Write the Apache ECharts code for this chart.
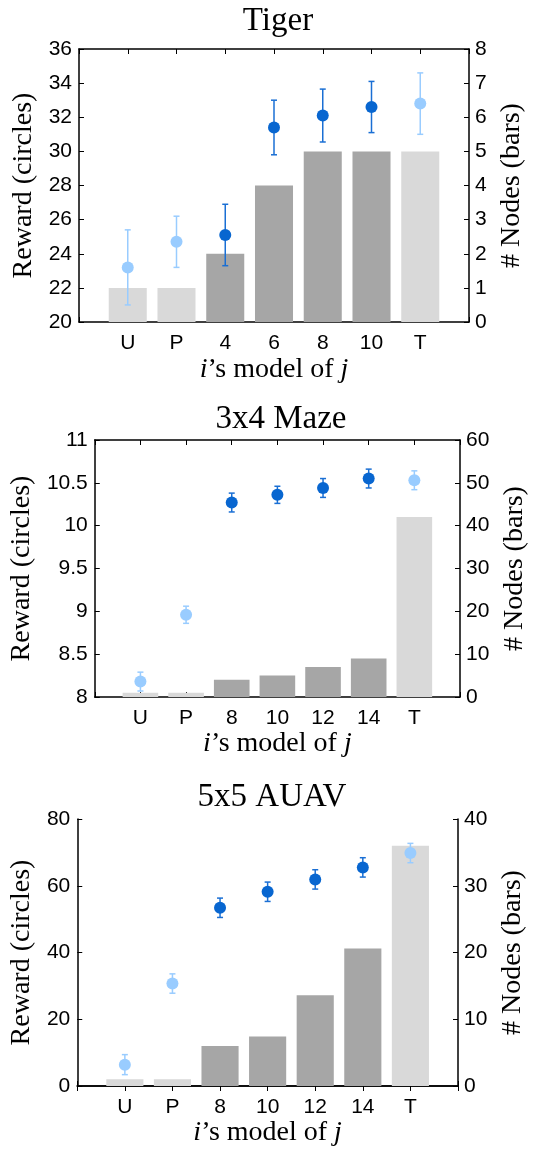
<!DOCTYPE html>
<html>
<head>
<meta charset="utf-8">
<title>Reward and nodes</title>
<script src="https://cdn.jsdelivr.net/npm/echarts@6/dist/echarts.min.js"></script>
<style>
  html, body { margin: 0; padding: 0; background: #fff; }
  #main { width: 543px; height: 1149px; }
</style>
</head>
<body>
<div id="main"></div>
<script>
// model categories per problem
var tigerCats = ['U', 'P', '4', '6', '8', '10', 'T'];
var mazeCats = ['U', 'P', '8', '10', '12', '14', 'T'];
var auavCats = ['U', 'P', '8', '10', '12', '14', 'T'];

// reward (circles) and its error half-width
var tigerReward = [23.2, 24.7, 25.1, 31.4, 32.1, 32.6, 32.8];
var tigerErr = [2.2, 1.5, 1.8, 1.6, 1.55, 1.5, 1.8];
var mazeReward = [8.18, 8.96, 10.27, 10.36, 10.44, 10.55, 10.53];
var mazeErr = [0.11, 0.1, 0.11, 0.1, 0.11, 0.11, 0.11];
var auavReward = [6.4, 30.7, 53.4, 58.2, 61.9, 65.5, 69.8];
var auavErr = [3, 2.9, 2.9, 2.9, 2.9, 2.9, 2.9];

// number of nodes (bars)
var tigerNodes = [1, 1, 2, 4, 5, 5, 5];
var mazeNodes = [1, 1, 4, 5, 7, 9, 42];
var auavNodes = [1, 1, 6, 7.4, 13.6, 20.6, 36];

// U, P and T are the reference models, drawn light
var baseModels = ['U', 'P', 'T'];

var dom = document.getElementById('main');
var myChart = echarts.init(dom);

var SERIF = '"Liberation Serif", "DejaVu Serif", serif';
var SANS = '"Liberation Sans", Arial, sans-serif';

var option = {
  animation: false,
  backgroundColor: '#fff',
  grid: [],
  xAxis: [],
  yAxis: [],
  series: [],
  graphic: []
};

function addPanel(p) {
  var gi = option.grid.length;
  option.grid.push({ left: p.grid[0], top: p.grid[1], width: p.grid[2], height: p.grid[3] });

  var axisCats = [' '].concat(p.cats).concat(['  ']);
  var xi = option.xAxis.length;
  option.xAxis.push({
    type: 'category', gridIndex: gi, data: axisCats, boundaryGap: false,
    axisLine: { lineStyle: { color: '#000', width: 1.5 } },
    axisTick: { inside: true, length: 5, lineStyle: { color: '#000' } },
    axisLabel: { color: '#000', fontFamily: SANS, fontSize: 21, margin: 11 },
    name: '{it|i}\u2019s model of {it|j}', nameLocation: 'middle', nameGap: p.xNameGap,
    nameTextStyle: {
      color: '#000', fontFamily: SERIF, fontSize: 28,
      rich: { it: { fontStyle: 'italic', fontFamily: SERIF, fontSize: 28, color: '#000' } }
    }
  });
  option.xAxis.push({
    type: 'category', gridIndex: gi, data: axisCats, boundaryGap: false, position: 'top',
    axisLine: { lineStyle: { color: '#000', width: 1.5 } },
    axisTick: { inside: true, length: 5, lineStyle: { color: '#000' } },
    axisLabel: { show: false }
  });

  var yl = option.yAxis.length;
  option.yAxis.push({
    type: 'value', gridIndex: gi, position: 'left',
    min: p.left[0], max: p.left[1], interval: p.left[2],
    splitLine: { show: false },
    axisLine: { show: true, lineStyle: { color: '#000', width: 1.5 } },
    axisTick: { show: true, inside: true, length: 5, lineStyle: { color: '#000' } },
    axisLabel: { color: '#000', fontFamily: SANS, fontSize: 21, margin: 7 },
    name: 'Reward (circles)', nameLocation: 'middle', nameGap: p.leftGap, nameRotate: 90,
    nameTextStyle: { color: '#000', fontFamily: SERIF, fontSize: 28 }
  });
  option.yAxis.push({
    type: 'value', gridIndex: gi, position: 'right',
    min: p.right[0], max: p.right[1], interval: p.right[2],
    splitLine: { show: false },
    axisLine: { show: true, lineStyle: { color: '#000', width: 1.5 } },
    axisTick: { show: true, inside: true, length: 5, lineStyle: { color: '#000' } },
    axisLabel: { color: '#000', fontFamily: SANS, fontSize: 21, margin: 6 },
    name: '# Nodes (bars)', nameLocation: 'middle', nameGap: p.rightGap, nameRotate: 90,
    nameTextStyle: { color: '#000', fontFamily: SERIF, fontSize: 28 }
  });

  var isBase = function (c) { return baseModels.indexOf(c) >= 0; };

  option.series.push({
    type: 'bar', xAxisIndex: xi, yAxisIndex: yl + 1, barWidth: '78%',
    data: p.nodes.map(function (v, i) {
      return {
        value: [i + 1, v],
        itemStyle: { color: isBase(p.cats[i]) ? '#d9d9d9' : '#a6a6a6' }
      };
    }),
    z: 1
  });

  option.series.push({
    type: 'custom', xAxisIndex: xi, yAxisIndex: yl,
    encode: { x: 0, y: [1, 2] },
    data: p.reward.map(function (v, i) {
      return [i + 1, v - p.err[i], v + p.err[i], isBase(p.cats[i]) ? 1 : 0];
    }),
    renderItem: function (params, api) {
      var x = api.value(0);
      var lo = api.coord([x, api.value(1)]);
      var hi = api.coord([x, api.value(2)]);
      var col = api.value(3) ? '#99ccff' : '#1a6fd4';
      var cw = 3;
      var st = { stroke: col, lineWidth: 1.5 };
      return {
        type: 'group',
        children: [
          { type: 'line', shape: { x1: lo[0], y1: lo[1], x2: hi[0], y2: hi[1] }, style: st },
          { type: 'line', shape: { x1: lo[0] - cw, y1: lo[1], x2: lo[0] + cw, y2: lo[1] }, style: st },
          { type: 'line', shape: { x1: hi[0] - cw, y1: hi[1], x2: hi[0] + cw, y2: hi[1] }, style: st }
        ]
      };
    },
    z: 2
  });

  option.series.push({
    type: 'scatter', xAxisIndex: xi, yAxisIndex: yl, symbol: 'circle', symbolSize: 12,
    data: p.reward.map(function (v, i) {
      return {
        value: [i + 1, v],
        itemStyle: { color: isBase(p.cats[i]) ? '#99ccff' : '#0866d0', opacity: 1 }
      };
    }),
    z: 3
  });

  option.graphic.push({
    type: 'text', x: p.title[1], y: p.title[2],
    style: {
      text: p.title[0], align: 'center', verticalAlign: 'middle',
      fontFamily: SERIF, fontSize: 33, fill: '#000'
    }
  });
}

addPanel({
  title: ['Tiger', 278, 21], cats: tigerCats, reward: tigerReward, err: tigerErr, nodes: tigerNodes,
  grid: [79, 49, 390, 273], left: [20, 36, 2], right: [0, 8, 1],
  leftGap: 34, rightGap: 23, xNameGap: 34
});
addPanel({
  title: ['3x4 Maze', 281, 419], cats: mazeCats, reward: mazeReward, err: mazeErr, nodes: mazeNodes,
  grid: [93, 440, 367, 257], left: [8, 11, 0.5], right: [0, 60, 10],
  leftGap: 48, rightGap: 33, xNameGap: 31
});
addPanel({
  title: ['5x5 AUAV', 272, 797], cats: auavCats, reward: auavReward, err: auavErr, nodes: auavNodes,
  grid: [77, 819, 381, 267], left: [0, 80, 20], right: [0, 40, 10],
  leftGap: 32, rightGap: 35, xNameGap: 32
});

if (option && typeof option === 'object') {
  myChart.setOption(option, true);
}
</script>
</body>
</html>
